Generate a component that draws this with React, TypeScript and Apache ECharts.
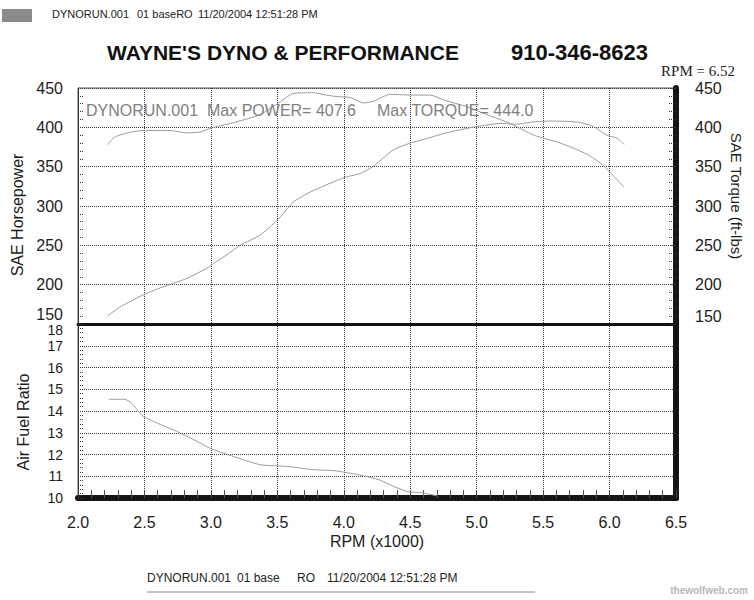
import React, { useEffect, useRef } from 'react';
import * as echarts from 'echarts';

// RPM (x1000) axis
const rpmMin = 2.0;
const rpmMax = 6.5;
const rpmStep = 0.5;

// SAE Horsepower curve
const powerRpm = [2.22, 2.32, 2.49, 2.62, 2.82, 2.97, 3.02, 3.12, 3.22, 3.37, 3.5, 3.62, 3.75, 3.87, 4.02, 4.12, 4.22, 4.37, 4.5, 4.63, 4.75, 4.88, 5.0, 5.18, 5.3, 5.43, 5.55, 5.68, 5.78, 5.88, 5.98, 6.06, 6.11];
const powerHp = [160, 172, 187, 196, 208, 221, 227, 238, 250, 263, 282, 305, 318, 327, 337, 341, 350, 371, 380, 386, 392, 397, 401, 405, 404, 407, 408, 407.6, 406, 401, 390, 386, 378];

// SAE Torque curve (ft-lbs)
const torqueRpm = [2.22, 2.28, 2.4, 2.49, 2.69, 2.82, 2.92, 3.0, 3.17, 3.37, 3.5, 3.62, 3.77, 3.87, 3.95, 4.05, 4.15, 4.22, 4.35, 4.5, 4.65, 4.75, 4.93, 5.08, 5.25, 5.43, 5.55, 5.63, 5.75, 5.85, 5.95, 6.03, 6.11];
const torqueLbft = [378, 388, 394, 396, 396, 393, 394, 399, 406, 416, 430, 443, 444, 441, 439, 438, 431, 433, 442, 441, 441, 435, 426, 416, 405, 390, 384, 380, 372, 364, 352, 338, 324];

// Air fuel ratio curve
const afrRpm = [2.23, 2.35, 2.4, 2.49, 2.62, 2.74, 2.87, 2.99, 3.17, 3.37, 3.5, 3.62, 3.77, 3.92, 4.05, 4.12, 4.27, 4.37, 4.48, 4.58, 4.7];
const afrValues = [14.54, 14.54, 14.38, 13.76, 13.38, 13.07, 12.69, 12.3, 11.91, 11.53, 11.48, 11.42, 11.3, 11.26, 11.14, 11.06, 10.83, 10.55, 10.29, 10.25, 10.1];

// Axis ranges
const hpRange = [150, 450, 50];
const afrRange = [10, 18, 1];

// Texts
const titleLeft = "WAYNE'S DYNO & PERFORMANCE";
const titlePhone = '910-346-8623';
const rpmNote = 'RPM = 6.52';
const runName = 'DYNORUN.001';
const maxPowerText = 'Max POWER= 407.6';
const maxTorqueText = 'Max TORQUE= 444.0';
const torqueAxisName = 'SAE Torque (ft-lbs)';
const headerParts = ['DYNORUN.001', '01 baseRO', '11/20/2004 12:51:28 PM'];
const footerParts = ['DYNORUN.001', '01 base', 'RO', '11/20/2004 12:51:28 PM'];
const watermark = 'thewolfweb.com';

export default function App() {
  const ref = useRef<HTMLDivElement>(null);
  useEffect(() => {
    if (!ref.current) return;
    const chart = echarts.init(ref.current, null, { renderer: 'svg' });
    const font = '"Liberation Sans", Arial, sans-serif';
    const labelColor = '#1c1c1c';
    const dotted = { type: 'dotted' as const, color: '#3a3a3a', width: 1 };
    const axisLabelStyle = { fontFamily: font, fontSize: 16, color: labelColor };
    const afrLabelStyle = { fontFamily: font, fontSize: 14, color: labelColor, lineHeight: 14 };
    const nameStyle = { fontFamily: font, fontSize: 16, color: labelColor };
    const curve = { color: '#9a9a9a', width: 1 };

    const option: any = {
      animation: false,
      backgroundColor: '#ffffff',
      grid: [
        { left: 78, top: 88, width: 598, height: 236, show: true, borderColor: '#555', borderWidth: 1, backgroundColor: '#fff' },
        { left: 78, top: 324, width: 598, height: 174, show: true, borderColor: '#555', borderWidth: 1, backgroundColor: '#fff' },
      ],
      xAxis: [
        {
          gridIndex: 0, type: 'value', min: rpmMin, max: rpmMax, interval: rpmStep, position: 'bottom',
          axisLine: { show: true, onZero: false, lineStyle: { color: '#111', width: 3 } },
          axisTick: { show: false }, axisLabel: { show: false },
          splitLine: { show: true, lineStyle: dotted },
        },
        {
          gridIndex: 1, type: 'value', min: rpmMin, max: rpmMax, interval: rpmStep, position: 'bottom',
          axisLine: { show: true, onZero: false, lineStyle: { color: '#151515', width: 6 } },
          axisTick: { show: true, inside: true, length: 8, lineStyle: { color: '#444', width: 1 } },
          minorTick: { show: true, splitNumber: 5, length: 8, lineStyle: { color: '#555', width: 1 } },
          axisLabel: { ...axisLabelStyle, margin: 16, formatter: (v: number) => v.toFixed(1) },
          splitLine: { show: true, lineStyle: dotted },
          name: 'RPM (x1000)', nameLocation: 'middle', nameGap: 35, nameTextStyle: nameStyle,
        },
      ],
      yAxis: [
        {
          gridIndex: 0, type: 'value', position: 'left', min: hpRange[0], max: hpRange[1], interval: hpRange[2],
          axisLine: { show: true, lineStyle: { color: '#333', width: 1 } },
          axisTick: { show: true, inside: true, length: 6, lineStyle: dotted },
          minorTick: { show: true, splitNumber: 5, length: 6, lineStyle: { type: 'dotted', color: '#333', width: 1 } },
          axisLabel: {
            ...axisLabelStyle, margin: 15, lineHeight: 14, verticalAlignMinLabel: 'bottom', showMinLabel: true,
            formatter: (v: number) => (v === hpRange[0] ? `{low|${v}}` : String(v)),
            rich: { low: { fontFamily: font, fontSize: 16, color: labelColor, lineHeight: 14, padding: [0, 0, 5, 0] } },
          },
          splitLine: { show: true, lineStyle: dotted },
          name: 'SAE Horsepower', nameLocation: 'middle', nameGap: 47, nameTextStyle: { ...nameStyle, padding: [0, 18, 0, 0] },
        },
        {
          gridIndex: 0, type: 'value', position: 'right', min: hpRange[0], max: hpRange[1], interval: hpRange[2],
          axisLine: { show: true, lineStyle: { color: '#151515', width: 6 } },
          axisTick: { show: true, inside: true, length: 6, lineStyle: dotted },
          minorTick: { show: true, splitNumber: 5, length: 8, lineStyle: { type: 'dotted', color: '#333', width: 1 } },
          axisLabel: { ...axisLabelStyle, margin: 19, verticalAlignMinLabel: 'bottom', showMinLabel: true },
          splitLine: { show: false },
        },
        {
          gridIndex: 1, type: 'value', position: 'left', min: afrRange[0], max: afrRange[1], interval: afrRange[2],
          axisLine: { show: true, lineStyle: { color: '#333', width: 1 } },
          axisTick: { show: true, inside: true, length: 6, lineStyle: dotted },
          minorTick: { show: true, splitNumber: 5, length: 6, lineStyle: { type: 'dotted', color: '#333', width: 1 } },
          axisLabel: { ...afrLabelStyle, margin: 15, showMaxLabel: false },
          splitLine: { show: true, lineStyle: dotted },
          name: 'Air Fuel Ratio', nameLocation: 'middle', nameGap: 47, nameTextStyle: { ...nameStyle, padding: [0, 22, 0, 0] },
        },
        {
          gridIndex: 1, type: 'value', position: 'right', min: afrRange[0], max: afrRange[1], interval: afrRange[2],
          axisLine: { show: true, lineStyle: { color: '#151515', width: 6 } },
          axisTick: { show: false }, axisLabel: { show: false }, splitLine: { show: false },
        },
        {
          // carries only the top "18" label of the AFR scale, set just under the divider
          gridIndex: 1, type: 'value', position: 'left', min: afrRange[0], max: afrRange[1],
          interval: afrRange[1] - afrRange[0],
          axisLine: { show: false }, axisTick: { show: false }, splitLine: { show: false },
          axisLabel: {
            ...afrLabelStyle, lineHeight: 11, margin: 15, verticalAlignMaxLabel: 'top', showMaxLabel: true,
            formatter: (v: number) => (v === afrRange[1] ? String(v) : ''),
          },
        },
      ],
      series: [
        {
          name: 'Power', type: 'line', xAxisIndex: 0, yAxisIndex: 0, showSymbol: false, smooth: 0.2,
          lineStyle: curve, data: powerRpm.map((r, i) => [r, powerHp[i]]),
        },
        {
          name: 'Torque', type: 'line', xAxisIndex: 0, yAxisIndex: 1, showSymbol: false, smooth: 0.2,
          lineStyle: curve, data: torqueRpm.map((r, i) => [r, torqueLbft[i]]),
        },
        {
          name: 'AFR', type: 'line', xAxisIndex: 1, yAxisIndex: 2, showSymbol: false, smooth: 0.2,
          lineStyle: curve, data: afrRpm.map((r, i) => [r, afrValues[i]]),
        },
      ],
      graphic: [
        { type: 'rect', left: 2, top: 9, shape: { width: 30, height: 13 }, style: { fill: '#8a8a8a' } },
        { type: 'text', x: 52, y: 14, style: { text: headerParts[0], fontFamily: font, fontSize: 11, fill: '#222', verticalAlign: 'middle' } },
        { type: 'text', x: 137, y: 14, style: { text: headerParts[1], fontFamily: font, fontSize: 11, fill: '#222', verticalAlign: 'middle' } },
        { type: 'text', x: 198, y: 14, style: { text: headerParts[2], fontFamily: font, fontSize: 11, fill: '#222', verticalAlign: 'middle' } },
        { type: 'text', x: 107, y: 52, style: { text: titleLeft, fontFamily: font, fontSize: 21, fontWeight: 'bold', fill: '#111', verticalAlign: 'middle' } },
        { type: 'text', x: 648, y: 52, style: { text: titlePhone, fontFamily: font, fontSize: 22, fontWeight: 'bold', fill: '#111', align: 'right', verticalAlign: 'middle' } },
        { type: 'text', x: 735, y: 71, style: { text: rpmNote, fontFamily: '"Liberation Serif", "Times New Roman", serif', fontSize: 15, fill: '#222', align: 'right', verticalAlign: 'middle' } },
        { type: 'text', x: 736, y: 196, rotation: -Math.PI / 2, style: { text: torqueAxisName, fontFamily: font, fontSize: 15, fill: labelColor, align: 'center', verticalAlign: 'middle' } },
        { type: 'text', x: 86, y: 110, z: 10, style: { text: runName, fontFamily: font, fontSize: 16, fill: '#808080', verticalAlign: 'middle' } },
        { type: 'text', x: 207, y: 110, z: 10, style: { text: maxPowerText, fontFamily: font, fontSize: 16, fill: '#808080', verticalAlign: 'middle' } },
        { type: 'text', x: 377, y: 110, z: 10, style: { text: maxTorqueText, fontFamily: font, fontSize: 16, fill: '#808080', verticalAlign: 'middle' } },
        { type: 'text', x: 147, y: 578, style: { text: footerParts[0], fontFamily: font, fontSize: 12, fill: '#222', verticalAlign: 'middle' } },
        { type: 'text', x: 237, y: 578, style: { text: footerParts[1], fontFamily: font, fontSize: 12, fill: '#222', verticalAlign: 'middle' } },
        { type: 'text', x: 297, y: 578, style: { text: footerParts[2], fontFamily: font, fontSize: 12, fill: '#222', verticalAlign: 'middle' } },
        { type: 'text', x: 327, y: 578, style: { text: footerParts[3], fontFamily: font, fontSize: 12, fill: '#222', verticalAlign: 'middle' } },
        { type: 'line', shape: { x1: 147, y1: 592, x2: 535, y2: 592 }, style: { stroke: '#8a8a8a', lineWidth: 1 } },
        { type: 'text', x: 748, y: 590, style: { text: watermark, fontFamily: font, fontSize: 10, fontWeight: 'bold', fill: '#b8b8b8', align: 'right', verticalAlign: 'middle' } },
      ],
    };
    chart.setOption(option);
    return () => chart.dispose();
  }, []);
  return <div ref={ref} style={{ position: 'absolute', left: 0, top: 0, width: 754, height: 600, background: '#fff' }} />;
}
